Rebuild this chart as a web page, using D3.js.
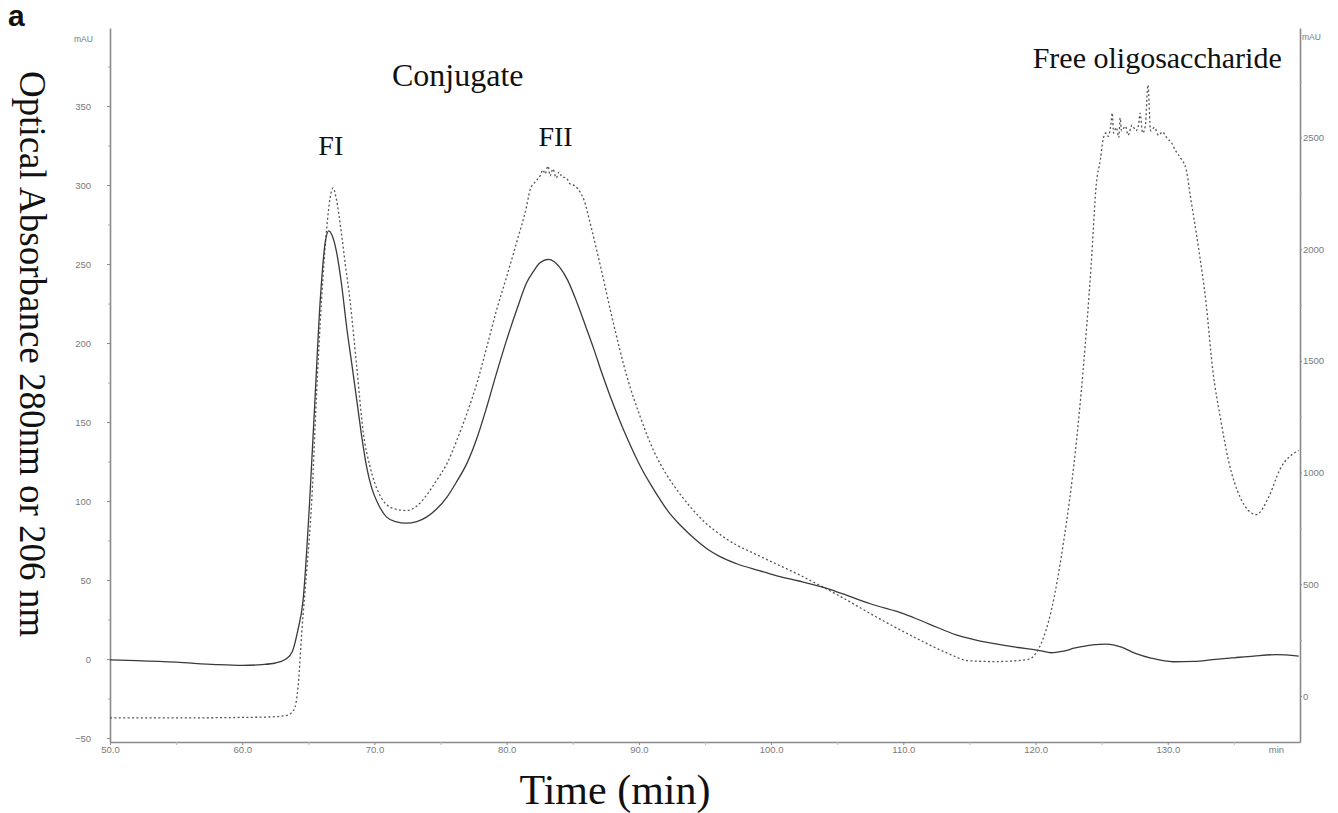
<!DOCTYPE html>
<html>
<head>
<meta charset="utf-8">
<script src="https://cdn.jsdelivr.net/npm/d3@7"></script>
<style>
  html, body { margin: 0; padding: 0; background: #fff; }
  svg { display: block; }
</style>
</head>
<body>
<svg id="chart" width="1338" height="813"></svg>
<script>
// ---------------- DATA ----------------
// Solid trace: absorbance at 280 nm (left axis, mAU)
const time280 = [50, 52, 55, 58, 60, 61.5, 62.5, 63.3, 63.8, 64.2, 64.6, 65.1, 65.5, 65.9, 66.3, 66.55, 66.8, 67.1, 67.5, 67.9,
  68.3, 68.66, 69.0, 69.4, 69.8, 70.2, 70.9, 71.6, 72.4, 73.2, 73.96, 74.7, 75.5, 76.2, 77, 77.8, 78.5, 79.2, 80, 80.8,
  81.5, 82.0, 82.5, 83.15, 83.6, 84, 84.6, 85.3, 86, 86.6, 87.2, 87.8, 88.5, 89.1, 89.7, 90.3, 91, 91.6, 92.3, 93.1,
  94.3, 95.2, 96.1, 97.5, 99.1, 100.5, 102.1, 104.5, 106, 107.5, 110.1, 112, 114, 115.5, 117, 118.5, 120.3, 121.2, 122, 123,
  124.3, 125.4, 126.5, 127.5, 128.8, 130.4, 132, 133.4, 135, 136.5, 138.2, 139.9];
const abs280 = [-0.5, -1, -2, -3.5, -4, -3.5, -2.5, 0, 5, 18, 37, 100, 164, 227, 265, 271, 268, 259, 238, 210,
  186, 164, 143, 122, 108, 99.6, 90, 87, 86, 87, 90, 95, 102.7, 112, 124, 141, 159.7, 180, 202, 222,
  238, 245, 250.6, 253, 251.5, 248, 240, 226, 210, 196, 181, 167, 152, 140, 129, 119, 109, 101, 92.5, 85,
  75.5, 69.5, 65, 60, 56, 52.5, 49.4, 44, 39.5, 35, 28.5, 22, 15.3, 12, 9.6, 7.5, 5.4, 4, 4.8, 7,
  9, 9.5, 7.5, 3.8, 0.5, -1.7, -1.5, -0.4, 0.8, 1.9, 2.8, 1.9];

// Dotted trace: absorbance at 206 nm (right axis, mAU)
const time206 = [50, 55, 60, 62, 63.3, 63.9, 64.25, 64.5, 64.9, 65.26, 65.6, 66.0, 66.4, 66.65, 66.87, 67.1, 67.5, 67.8, 68.15, 68.66,
  69.16, 69.67, 70.4, 71.4, 72.4, 73.2, 73.96, 74.7, 75.5, 76.2, 77, 77.8, 78.5, 79.2, 80, 80.8, 81.5, 81.77, 82.15, 82.53,
  82.75, 82.9, 83.13, 83.28, 83.5, 83.74, 83.96, 84.19, 84.5, 84.8, 85.17, 85.55, 85.85, 86.3, 87.1, 88.07, 89.1, 90.1, 91.1, 92.1,
  93.1, 94.6, 96.7, 99.1, 102.1, 105.1, 108.1, 111.1, 113.4, 114.9, 117, 119.4, 120.3, 121.2, 122.1, 123, 123.6, 124.2, 124.6, 124.9,
  125.1, 125.3, 125.5, 125.7, 125.8, 125.9, 126.1, 126.3, 126.4, 126.5, 126.8, 127.0, 127.3, 127.6, 127.8, 127.9, 128.1, 128.3, 128.5, 128.7,
  129.0, 129.3, 129.6, 129.9, 130.3, 130.6, 130.9, 131.4, 131.7, 132.3, 132.9, 133.4, 134, 134.6, 135.5, 136.1, 136.7, 137.6, 138.5, 139.9];
const abs206 = [-98, -98, -96, -94, -88, -63, 58, 282, 577, 877, 1325, 1772, 2100, 2230, 2274, 2230, 2072, 1930, 1772, 1474,
  1177, 1026, 900, 840, 830, 850, 900, 965, 1042, 1140, 1266, 1410, 1563, 1720, 1877, 2040, 2190, 2265, 2301, 2328,
  2355, 2337, 2372, 2328, 2359, 2319, 2345, 2323, 2319, 2292, 2283, 2256, 2220, 2120, 1922, 1669, 1429, 1250, 1100, 990,
  905, 800, 700, 627, 543, 450, 349, 255, 190, 158, 154, 163, 219, 385, 682, 1089, 1460, 1923, 2294, 2400,
  2489, 2520, 2505, 2560, 2610, 2520, 2545, 2500, 2587, 2530, 2550, 2510, 2555, 2530, 2560, 2609, 2520, 2550, 2735, 2530,
  2545, 2510, 2525, 2500, 2475, 2440, 2414, 2354, 2240, 2016, 1756, 1460, 1238, 1052, 886, 830, 812, 886, 1016, 1099];

// Axis ticks and labels
const xTicks = [50, 60, 70, 80, 90, 100, 110, 120, 130, 140];
const xTickLabels = ["50.0", "60.0", "70.0", "80.0", "90.0", "100.0", "110.0", "120.0", "130.0", "min"];
const xMinorTicks = [55, 65, 75, 85, 95, 105, 115, 125, 135];
const leftTicks = [-50, 0, 50, 100, 150, 200, 250, 300, 350];
const leftMinorTicks = [-25, 25, 75, 125, 175, 225, 275, 325, 375];
const rightTicks = [0, 500, 1000, 1500, 2000, 2500];
const rightMinorTicks = [250, 750, 1250, 1750, 2250, 2750];
const unitLabel = "mAU";

// Annotations (anchored at time, left-axis value)
const annoText = ["Conjugate", "FI", "FII", "Free oligosaccharide"];
const annoTime = [76.3, 66.7, 83.7, 129.2];
const annoValue = [363, 319, 325, 374];

const panelLabel = "a";
const xTitle = "Time (min)";
const yTitle = "Optical Absorbance 280nm or  206 nm";

// ---------------- LAYOUT ----------------
const svg = d3.select("#chart");
const mLeft = 110, mRight = 1300, mTop = 28, mBottom = 742;

const x = d3.scaleLinear().domain([50, 140]).range([mLeft, mRight]);
const yL = d3.scaleLinear().domain([-52.5, 399.4]).range([mBottom, mTop]);
const yR = d3.scaleLinear().domain([-206, 2990]).range([mBottom, mTop]);

const axisColor = "#8a8a8a";
const labelColor = "#7a7a7a";
const sans = "'Liberation Sans', Arial, sans-serif";
const serif = "'Liberation Serif', 'Times New Roman', serif";

// ---------------- AXES ----------------
function styleAxis(g) {
  g.select(".domain").attr("stroke", axisColor).attr("stroke-width", 1.6);
  g.selectAll(".tick line").attr("stroke", axisColor).attr("stroke-width", 1);
  g.selectAll(".tick text").attr("fill", labelColor)
    .attr("font-family", sans).attr("font-size", 9.5);
}

// bottom
const gx = svg.append("g").attr("transform", `translate(0,${mBottom})`)
  .call(d3.axisBottom(x).tickValues(xTicks).tickSize(3).tickPadding(1)
    .tickFormat((d, i) => xTickLabels[i]).tickSizeOuter(0));
styleAxis(gx);
gx.selectAll(".tick").filter(d => d === 140).select("text").attr("dx", -24);
gx.selectAll(".tick").filter(d => d === 140).select("line").remove();
const gxm = svg.append("g").attr("transform", `translate(0,${mBottom})`)
  .call(d3.axisBottom(x).tickValues(xMinorTicks).tickSize(3).tickFormat(""));
gxm.select(".domain").remove();
gxm.selectAll(".tick line").attr("stroke", "#bbb");

// left
const gl = svg.append("g").attr("transform", `translate(${mLeft},0)`)
  .call(d3.axisLeft(yL).tickValues(leftTicks).tickSize(3).tickPadding(16)
    .tickFormat(d3.format("d")).tickSizeOuter(0));
styleAxis(gl);
const glm = svg.append("g").attr("transform", `translate(${mLeft},0)`)
  .call(d3.axisLeft(yL).tickValues(leftMinorTicks).tickSize(2).tickFormat(""));
glm.select(".domain").remove();
glm.selectAll(".tick line").attr("stroke", "#aaa");

// right
const gr = svg.append("g").attr("transform", `translate(${mRight},0)`)
  .call(d3.axisRight(yR).tickValues(rightTicks).tickSize(2).tickPadding(1)
    .tickFormat(d3.format("d")).tickSizeOuter(0));
styleAxis(gr);
const grm = svg.append("g").attr("transform", `translate(${mRight},0)`)
  .call(d3.axisRight(yR).tickValues(rightMinorTicks).tickSize(2).tickFormat(""));
grm.select(".domain").remove();
grm.selectAll(".tick line").attr("stroke", "#aaa");

// unit labels
svg.append("text").attr("x", 74).attr("y", 42).text(unitLabel)
  .attr("font-family", sans).attr("font-size", 8.5).attr("fill", labelColor);
svg.append("text").attr("x", 1302).attr("y", 40).text(unitLabel)
  .attr("font-family", sans).attr("font-size", 8.5).attr("fill", labelColor);

// ---------------- LINES ----------------
const data280 = time280.map((t, i) => ({ t, v: abs280[i] }));
const data206 = time206.map((t, i) => ({ t, v: abs206[i] }));

svg.append("path").datum(data206)
  .attr("fill", "none").attr("stroke", "#555").attr("stroke-width", 1.3)
  .attr("stroke-dasharray", "2,2.4")
  .attr("d", d3.line().x(d => x(d.t)).y(d => yR(d.v)).curve(d3.curveMonotoneX));

svg.append("path").datum(data280)
  .attr("fill", "none").attr("stroke", "#3a3a3a").attr("stroke-width", 1.3)
  .attr("d", d3.line().x(d => x(d.t)).y(d => yL(d.v)).curve(d3.curveMonotoneX));

// ---------------- TEXT ----------------
annoText.forEach((s, i) => {
  const fs = (s === "FI" || s === "FII") ? 28 : (s === "Conjugate" ? 32 : 30);
  svg.append("text").attr("x", x(annoTime[i])).attr("y", yL(annoValue[i]))
    .attr("text-anchor", "middle").attr("font-family", serif)
    .attr("font-size", fs).attr("fill", "#111").text(s);
});

svg.append("text").attr("x", 8).attr("y", 26).text(panelLabel)
  .attr("font-family", sans).attr("font-weight", "bold")
  .attr("font-size", 30).attr("fill", "#111");

svg.append("text").attr("x", 615).attr("y", 804).attr("text-anchor", "middle")
  .attr("font-family", serif).attr("font-size", 42).attr("fill", "#111").text(xTitle);

svg.append("text").attr("transform", "translate(20,354) rotate(90)").attr("text-anchor", "middle")
  .attr("font-family", serif).attr("font-size", 37).attr("fill", "#111").text(yTitle);
</script>
</body>
</html>
